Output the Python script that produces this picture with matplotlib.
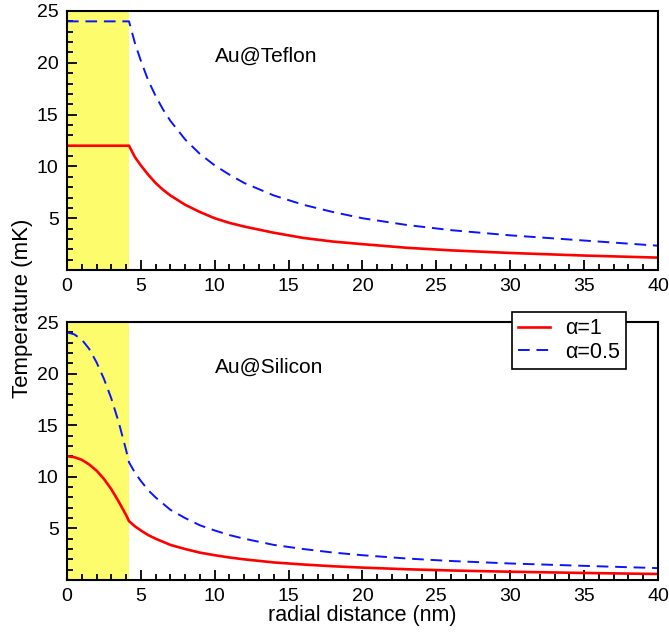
import matplotlib
matplotlib.use('Agg')
import matplotlib.pyplot as plt
from matplotlib.ticker import MultipleLocator

plt.rcParams['font.family'] = ['Liberation Sans', 'DejaVu Sans']

# radius of the gold particle (shaded region)
core_radius = 4.2

# Au@Teflon: flat inside the particle, then decays
r_teflon = [0, 4.2, 4.6, 5, 5.5, 6, 6.5, 7, 8, 9, 10, 11, 12, 14, 16, 18, 20, 23, 26, 30, 35, 40]
teflon_a1 = [12.0, 12.0, 10.9, 10.1, 9.2, 8.4, 7.75, 7.2, 6.3, 5.6, 5.0, 4.55, 4.2, 3.6, 3.1, 2.75, 2.5, 2.15, 1.9, 1.65, 1.4, 1.2]
teflon_a05 = [24.0, 24.0, 21.9, 20.2, 18.3, 16.8, 15.5, 14.4, 12.6, 11.2, 10.1, 9.2, 8.4, 7.2, 6.3, 5.6, 5.0, 4.35, 3.85, 3.35, 2.85, 2.35]

# Au@Silicon: drops already inside the particle
r_silicon = [0, 0.5, 1, 1.5, 2, 2.5, 3, 3.5, 4, 4.2, 4.6, 5, 5.5, 6, 6.5, 7, 8, 9, 10, 11, 12, 14, 16, 18, 20, 23, 26, 30, 35, 40]
silicon_a1 = [12.0, 11.9, 11.65, 11.2, 10.6, 9.8, 8.8, 7.6, 6.3, 5.7, 5.2, 4.8, 4.35, 4.0, 3.7, 3.4, 3.0, 2.65, 2.4, 2.18, 2.0, 1.7, 1.5, 1.33, 1.2, 1.04, 0.92, 0.8, 0.68, 0.58]
silicon_a05 = [24.0, 23.8, 23.3, 22.4, 21.1, 19.5, 17.6, 15.3, 12.6, 11.4, 10.4, 9.6, 8.7, 8.0, 7.4, 6.8, 6.0, 5.3, 4.8, 4.35, 4.0, 3.4, 3.0, 2.66, 2.4, 2.08, 1.84, 1.6, 1.37, 1.15]

panels = [
    ('Au@Teflon', r_teflon, teflon_a1, teflon_a05),
    ('Au@Silicon', r_silicon, silicon_a1, silicon_a05),
]

fig = plt.figure(figsize=(6.69, 6.43), dpi=100)
ax_top = fig.add_axes([0.1001, 0.580, 0.8834, 0.4029])
ax_bot = fig.add_axes([0.1001, 0.098, 0.8834, 0.4012])

for ax, (name, r, a1, a05) in zip([ax_top, ax_bot], panels):
    ax.axvspan(0, core_radius, color='#fcfc6c', lw=0, zorder=0)
    ax.plot(r, a1, color='red', lw=1.9, label='α=1')
    ax.plot(r, a05, color='#0a14ff', lw=1.4, dashes=(6, 3.5), label='α=0.5')
    ax.text(10, 20.6, name, fontsize=15, va='center', ha='left')

    ax.set_xlim(0, 40)
    ax.set_ylim(0, 25)
    ax.set_xticks(range(0, 41, 5))
    ax.set_yticks([5, 10, 15, 20, 25])
    ax.xaxis.set_minor_locator(MultipleLocator(1))
    ax.yaxis.set_minor_locator(MultipleLocator(1))
    ax.tick_params(which='both', direction='in', top=False, right=False,
                   labelsize=14, width=1.3)
    ax.tick_params(which='major', length=7, pad=6)
    ax.tick_params(which='minor', length=4)
    for s in ax.spines.values():
        s.set_linewidth(1.5)

ax_bot.set_xlabel('radial distance (nm)', fontsize=15.5, labelpad=0)
fig.text(0.033, 0.521, 'Temperature (mK)', rotation=90, fontsize=16,
         ha='center', va='center')

leg = ax_bot.legend(loc='upper right', bbox_to_anchor=(0.9357, 0.5148),
                    bbox_transform=fig.transFigure, borderaxespad=0,
                    frameon=True, fancybox=False, framealpha=1,
                    edgecolor='black', handlelength=1.45, handletextpad=0.7,
                    borderpad=0.3, labelspacing=0.1, prop={'size': 15.5})
leg.get_frame().set_linewidth(1.2)
leg.set_zorder(10)

plt.savefig('out.png', dpi=100)
plt.close()
